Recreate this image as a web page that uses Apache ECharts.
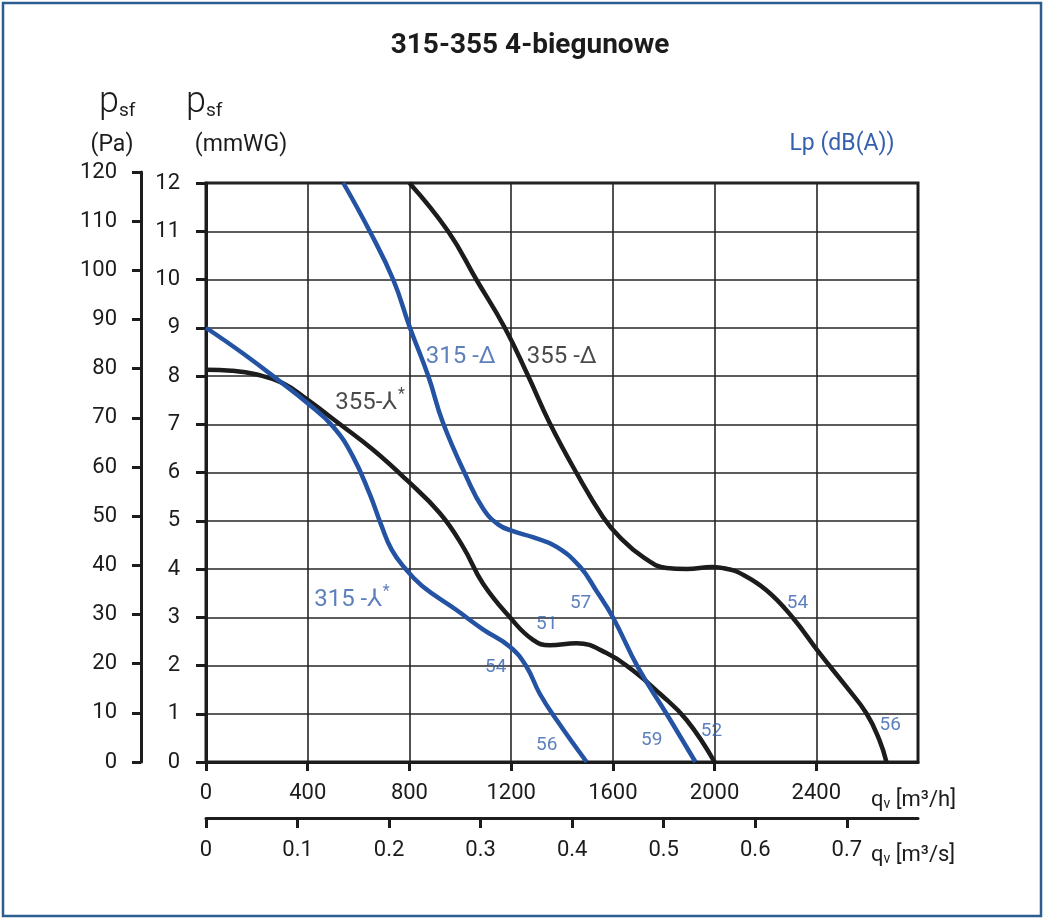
<!DOCTYPE html>
<html>
<head>
<meta charset="utf-8">
<script src="https://cdn.jsdelivr.net/npm/echarts@6/dist/echarts.min.js"></script>
<style>
  html, body { margin: 0; padding: 0; background: #fff; }
  #c_chart { width: 1045px; height: 920px; }
</style>
</head>
<body>
<div id="c_chart"></div>
<script>
// curves: [qv m3/h, psf mmWG]
var c315d = [[540,12],[644,11],[736,10],[802,9],[874,8],[932,7.03],[1025,5.9],[1090,5.25],[1150,4.92],[1210,4.78],[1285,4.66],[1379,4.46],[1470,4.05],[1535,3.55],[1600,3.0],[1700,1.95],[1811,1.0],[1925,0]];
var c315y = [[0,9],[150,8.45],[300,7.85],[396,7.45],[500,6.95],[578,6.33],[644,5.55],[690,4.9],[730,4.4],[780,4.03],[850,3.65],[985,3.15],[1089,2.75],[1195,2.39],[1260,1.98],[1312,1.42],[1379,0.87],[1497,0]];
var c355d = [[800,12],[952,11],[1063,10],[1175,9],[1267,8],[1352,7.02],[1457,5.99],[1561,5.08],[1627,4.66],[1718,4.25],[1811,4.02],[1890,4.0],[1992,4.04],[2050,4.0],[2098,3.92],[2204,3.56],[2306,3.0],[2412,2.26],[2518,1.56],[2597,1.01],[2648,0.46],[2676,0]];
var c355y = [[0,8.13],[100,8.11],[200,8.03],[303,7.85],[396,7.52],[527,7.0],[657,6.47],[788,5.85],[919,5.16],[1011,4.46],[1089,3.7],[1195,3.0],[1286,2.53],[1352,2.42],[1457,2.46],[1575,2.26],[1678,1.9],[1784,1.42],[1890,0.87],[2000,0]];

// Lp dB(A) labels
var dbLabels = [[1473,3.3,'57'],[1340,2.86,'51'],[1139,1.97,'54'],[1340,0.35,'56'],[1753,0.46,'59'],[1988,0.64,'52'],[2326,3.3,'54'],[2691,0.77,'56']];
var blueNames = [[1002,8.39,'{a|315 -Δ}'],[574,3.36,'{a|315 -⅄}{s|*}']];
var blackNames = [[1399,8.39,'{a|355 -Δ}'],[645,7.44,'{a|355-⅄}{s|*}']];

var qTicks = [0,400,800,1200,1600,2000,2400];
var sTicks = [0,0.1,0.2,0.3,0.4,0.5,0.6,0.7];

var BLUE = '#2553a3';
var TXT_BLUE = '#3460ad';
var INK = '#1c1c1c';
var FONT = 'Roboto, "DejaVu Sans", sans-serif';

var dm = document.getElementById('c_chart');
var ch = echarts.init(dm);

function curve(name, data, color) {
    return {
        name: name, type: 'line', data: data,
        xAxisIndex: 0, yAxisIndex: 0,
        smooth: 0.45, showSymbol: false, symbol: 'none',
        lineStyle: { color: color, width: 4.5 },
        z: 5
    };
}

function labels(data, color, size) {
    return {
        type: 'scatter', data: data, xAxisIndex: 0, yAxisIndex: 0,
        symbolSize: 0, silent: true, z: 10,
        label: {
            show: true, position: 'inside',
            formatter: function (p) { return p.data[2]; },
            color: color, fontFamily: FONT, fontSize: size,
            rich: {
                a: { color: color, fontFamily: FONT, fontSize: size },
                s: { color: color, fontFamily: FONT, fontSize: 16, padding: [0, 0, 16, 1] }
            }
        }
    };
}

function sub(big, small, bigSize, smallSize, fw) {
    // rich text with a lowered small token
    return {
        b: { fontSize: bigSize, fontFamily: FONT, fill: INK, fontWeight: fw || 'normal', lineHeight: bigSize + 4, verticalAlign: 'bottom' },
        s: { fontSize: smallSize, fontFamily: FONT, fill: INK, lineHeight: bigSize + 4, verticalAlign: 'bottom' },
        t: { fontSize: 22, fontFamily: FONT, fill: INK, lineHeight: bigSize + 4, verticalAlign: 'bottom' }
    };
}

var axisLbl = { color: INK, fontFamily: FONT, fontSize: 22 };

var option = {
    animation: false,
    grid: [
        { left: 206, top: 183, width: 712, height: 579, show: true, borderColor: INK, borderWidth: 3 },
        { left: 141, top: 172, width: 1, height: 590 }
    ],
    xAxis: [
        {
            type: 'value', gridIndex: 0, min: 0, max: 2800, interval: 400, position: 'bottom',
            axisLine: { show: true, lineStyle: { color: INK, width: 3 } },
            axisTick: { show: true, length: 9, lineStyle: { color: INK, width: 3 }, customValues: qTicks },
            axisLabel: Object.assign({ margin: 20, customValues: qTicks, formatter: function (v) { return String(v); } }, axisLbl),
            splitLine: { show: true, lineStyle: { color: '#262626', width: 1.6 } }
        },
        {
            type: 'value', gridIndex: 0, min: 0, max: 2800 / 3600, position: 'bottom', offset: 56,
            axisLine: { show: true, onZero: false, lineStyle: { color: INK, width: 3 } },
            axisTick: { show: true, length: 10, lineStyle: { color: INK, width: 3 }, customValues: sTicks },
            axisLabel: Object.assign({ margin: 21, customValues: sTicks, formatter: function (v) { return v === 0 ? '0' : v.toFixed(1); } }, axisLbl),
            splitLine: { show: false }
        },
        { type: 'value', gridIndex: 1, show: false, min: 0, max: 1 }
    ],
    yAxis: [
        {
            type: 'value', gridIndex: 0, min: 0, max: 12, interval: 1,
            axisLine: { show: true, lineStyle: { color: INK, width: 3 } },
            axisTick: { show: true, length: 10, lineStyle: { color: INK, width: 3 } },
            axisLabel: Object.assign({ margin: 26 }, axisLbl),
            splitLine: { show: true, lineStyle: { color: '#262626', width: 1.6 } }
        },
        {
            type: 'value', gridIndex: 1, min: 0, max: 120, interval: 10,
            axisLine: { show: true, lineStyle: { color: INK, width: 3 } },
            axisTick: { show: true, length: 9, lineStyle: { color: INK, width: 3 } },
            axisLabel: Object.assign({ margin: 24 }, axisLbl),
            splitLine: { show: false }
        }
    ],
    series: [
        curve('355 Y', c355y, INK),
        curve('355 D', c355d, INK),
        curve('315 Y', c315y, BLUE),
        curve('315 D', c315d, BLUE),
        labels(dbLabels, TXT_BLUE, 19),
        labels(blueNames, TXT_BLUE, 24),
        labels(blackNames, INK, 24)
    ],
    graphic: [
        { type: 'rect', shape: { x: 3, y: 3, width: 1038, height: 913 }, style: { fill: 'none', stroke: '#2c5d8f', lineWidth: 2.5 } },
        { type: 'text', style: { text: '315-355 4-biegunowe', x: 530, y: 46, align: 'center', verticalAlign: 'middle', fill: INK, font: 'bold 28px ' + FONT } },
        { type: 'text', style: { text: '{b|p}{s|sf}', x: 99, y: 121, align: 'left', verticalAlign: 'bottom', rich: sub('p', 'sf', 36, 19, 300) } },
        { type: 'text', style: { text: '{b|p}{s|sf}', x: 186, y: 121, align: 'left', verticalAlign: 'bottom', rich: sub('p', 'sf', 36, 19, 300) } },
        { type: 'text', style: { text: '(Pa)', x: 112, y: 145, align: 'center', verticalAlign: 'middle', fill: INK, font: '23px ' + FONT } },
        { type: 'text', style: { text: '(mmWG)', x: 241, y: 145, align: 'center', verticalAlign: 'middle', fill: INK, font: '23px ' + FONT } },
        { type: 'text', style: { text: 'Lp (dB(A))', x: 842, y: 144, align: 'center', verticalAlign: 'middle', fill: TXT_BLUE, font: '23px ' + FONT } },
        { type: 'text', style: { text: '{b|q}{s|v}{t| [m³/h]}', x: 871, y: 811, align: 'left', verticalAlign: 'bottom', rich: sub('q', 'v', 22, 14) } },
        { type: 'text', style: { text: '{b|q}{s|v}{t| [m³/s]}', x: 871, y: 866, align: 'left', verticalAlign: 'bottom', rich: sub('q', 'v', 22, 14) } }
    ]
};

ch.setOption(option);
window.onresize = function () {
    ch.resize();
};
</script>
</body>
</html>
